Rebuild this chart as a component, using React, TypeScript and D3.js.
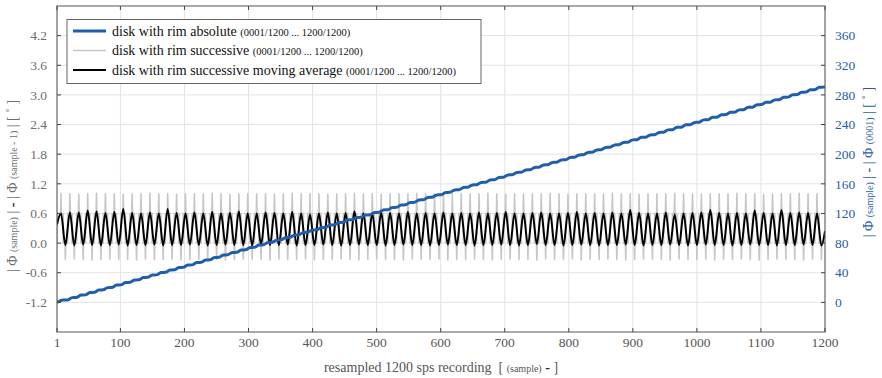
import React from "react";
import * as d3 from "d3";

// ---------- data ----------
const xTicks = [1, 100, 200, 300, 400, 500, 600, 700, 800, 900, 1000, 1100, 1200];
const leftTicks = [-1.2, -0.6, 0.0, 0.6, 1.2, 1.8, 2.4, 3.0, 3.6, 4.2];
const rightTicks = [0, 40, 80, 120, 160, 200, 240, 280, 320, 360];

// moving average: peak / trough sample positions and values
const maPeakAt = [7.2, 21.1, 35.0, 48.9, 62.7, 76.6, 90.5, 104.4, 118.3, 132.2, 146.1, 159.9, 173.8, 187.7, 201.6, 215.5, 229.4, 243.3, 257.1, 271.0, 284.9, 298.8, 312.7, 326.6, 340.5, 354.3, 368.2, 382.1, 396.0, 409.9, 423.8, 437.7, 451.6, 465.4, 479.3, 493.2, 507.1, 521.0, 534.9, 548.8, 562.6, 576.5, 590.4, 604.3, 618.2, 632.1, 646.0, 659.8, 673.7, 687.6, 701.5, 715.4, 729.3, 743.2, 757.0, 770.9, 784.8, 798.7, 812.6, 826.5, 840.4, 854.2, 868.1, 882.0, 895.9, 909.8, 923.7, 937.6, 951.4, 965.3, 979.2, 993.1, 1007.0, 1020.9, 1034.8, 1048.6, 1062.5, 1076.4, 1090.3, 1104.2, 1118.1, 1132.0, 1145.9, 1159.7, 1173.6, 1187.5];
const maPeakVal = [0.60, 0.62, 0.62, 0.66, 0.64, 0.61, 0.63, 0.69, 0.61, 0.60, 0.62, 0.60, 0.69, 0.61, 0.60, 0.62, 0.60, 0.63, 0.60, 0.61, 0.64, 0.60, 0.60, 0.62, 0.61, 0.60, 0.63, 0.60, 0.58, 0.60, 0.62, 0.60, 0.61, 0.64, 0.60, 0.60, 0.62, 0.61, 0.60, 0.63, 0.60, 0.61, 0.60, 0.62, 0.60, 0.61, 0.60, 0.62, 0.60, 0.61, 0.63, 0.60, 0.60, 0.61, 0.62, 0.60, 0.60, 0.61, 0.63, 0.60, 0.61, 0.60, 0.62, 0.60, 0.67, 0.61, 0.60, 0.60, 0.62, 0.58, 0.60, 0.61, 0.62, 0.67, 0.61, 0.60, 0.61, 0.60, 0.66, 0.61, 0.60, 0.67, 0.61, 0.62, 0.61, 0.60];
const maTroughAt = [14.1, 28.0, 41.9, 55.8, 69.6, 83.5, 97.4, 111.3, 125.2, 139.1, 153.0, 166.8, 180.7, 194.6, 208.5, 222.4, 236.3, 250.2, 264.0, 277.9, 291.8, 305.7, 319.6, 333.5, 347.4, 361.2, 375.1, 389.0, 402.9, 416.8, 430.7, 444.6, 458.5, 472.3, 486.2, 500.1, 514.0, 527.9, 541.8, 555.7, 569.5, 583.4, 597.3, 611.2, 625.1, 639.0, 652.9, 666.7, 680.6, 694.5, 708.4, 722.3, 736.2, 750.1, 763.9, 777.8, 791.7, 805.6, 819.5, 833.4, 847.3, 861.1, 875.0, 888.9, 902.8, 916.7, 930.6, 944.5, 958.3, 972.2, 986.1, 1000.0, 1013.9, 1027.8, 1041.7, 1055.5, 1069.4, 1083.3, 1097.2, 1111.1, 1125.0, 1138.9, 1152.8, 1166.6, 1180.5, 1194.4];
const maTroughVal = [-0.04, -0.05, -0.03, -0.04, -0.05, -0.04, -0.03, -0.05, -0.04, -0.04, -0.03, -0.05, -0.04, -0.04, -0.03, -0.04, -0.05, -0.04, -0.03, -0.04, -0.04, -0.05, -0.03, -0.04, -0.04, -0.03, -0.05, -0.04, -0.04, -0.03, -0.04, -0.05, -0.04, -0.03, -0.04, -0.04, -0.05, -0.04, -0.03, -0.04, -0.04, -0.05, -0.04, -0.03, -0.04, -0.04, -0.05, -0.04, -0.04, -0.03, -0.04, -0.05, -0.04, -0.02, -0.04, -0.04, -0.05, -0.04, -0.03, -0.04, -0.05, -0.04, -0.04, -0.03, -0.04, -0.05, -0.04, -0.04, -0.03, -0.04, -0.05, -0.04, -0.03, -0.04, -0.04, -0.05, -0.04, -0.03, -0.04, -0.04, -0.05, -0.04, -0.04, -0.03, -0.04, -0.05];
const maStartVal = 0.38;
const maEndVal = 0.24;

// successive: plateau levels and one-sample spikes at each peak / trough
const succUpper = 0.6;
const succLower = 0.0;
const succHighVal = [1.0, 1.0, 0.99, 1.0, 1.01, 1.0, 1.0, 0.99, 1.0, 1.0, 1.01, 1.0, 1.0, 0.99, 1.0, 1.0, 1.0, 1.01, 1.0, 0.99, 1.0, 1.0, 1.0, 1.0, 0.99, 1.0, 1.01, 1.0, 1.0, 1.0, 0.99, 1.0, 1.0, 1.01, 1.0, 1.0, 0.99, 1.0, 1.0, 1.0, 1.01, 1.0, 1.0, 0.99, 1.0, 1.0, 1.0, 1.0, 1.01, 1.0, 0.99, 1.0, 1.0, 1.0, 1.0, 1.01, 1.0, 0.99, 1.0, 1.0, 1.0, 1.0, 1.01, 1.0, 1.0, 0.99, 1.0, 1.0, 1.0, 1.01, 1.0, 1.0, 0.99, 1.0, 1.0, 1.0, 1.01, 1.0, 1.0, 0.99, 1.0, 1.0, 1.0, 1.01, 1.0, 1.0];
const succLowVal = [-0.33, -0.32, -0.33, -0.34, -0.33, -0.32, -0.33, -0.33, -0.34, -0.32, -0.33, -0.33, -0.32, -0.34, -0.33, -0.33, -0.32, -0.33, -0.34, -0.33, -0.32, -0.33, -0.33, -0.34, -0.32, -0.33, -0.33, -0.32, -0.34, -0.33, -0.33, -0.32, -0.33, -0.34, -0.33, -0.32, -0.33, -0.33, -0.34, -0.32, -0.33, -0.33, -0.32, -0.34, -0.33, -0.33, -0.32, -0.33, -0.34, -0.33, -0.32, -0.33, -0.33, -0.34, -0.32, -0.33, -0.33, -0.32, -0.34, -0.33, -0.33, -0.32, -0.33, -0.34, -0.33, -0.32, -0.33, -0.33, -0.34, -0.32, -0.33, -0.33, -0.32, -0.34, -0.33, -0.33, -0.32, -0.33, -0.34, -0.33, -0.32, -0.33, -0.33, -0.34, -0.32, -0.33];

// absolute angle (right axis, degrees): value at sample 1, then pairs
// (end of steep step, end of flat step) for every period, then value at 1200
const absStartVal = 0;
const absStepVal = [
  3.1, 3.3, 6.4, 6.7, 9.8, 10.1, 13.2, 13.5, 16.6, 16.9, 19.9, 20.2, 23.3, 23.6, 26.7, 27.0, 30.1, 30.4, 33.5, 33.8,
  36.9, 37.1, 40.2, 40.5, 43.6, 43.9, 47.0, 47.3, 50.4, 50.6, 53.7, 54.0, 57.1, 57.4, 60.5, 60.8, 63.9, 64.2, 67.3, 67.5,
  70.6, 70.9, 74.0, 74.3, 77.4, 77.7, 80.8, 81.1, 84.1, 84.4, 87.5, 87.8, 90.9, 91.2, 94.3, 94.6, 97.7, 97.9, 101.0, 101.3,
  104.4, 104.7, 107.8, 108.1, 111.2, 111.5, 114.6, 114.8, 117.9, 118.2, 121.3, 121.6, 124.7, 125.0, 128.1, 128.3, 131.4, 131.7, 134.8, 135.1,
  138.2, 138.5, 141.6, 141.9, 145.0, 145.2, 148.3, 148.6, 151.7, 152.0, 155.1, 155.4, 158.5, 158.8, 161.9, 162.1, 165.2, 165.5, 168.6, 168.9,
  172.0, 172.3, 175.4, 175.6, 178.7, 179.0, 182.1, 182.4, 185.5, 185.8, 188.9, 189.2, 192.3, 192.5, 195.6, 195.9, 199.0, 199.3, 202.4, 202.7,
  205.8, 206.1, 209.1, 209.4, 212.5, 212.8, 215.9, 216.2, 219.3, 219.6, 222.7, 222.9, 226.0, 226.3, 229.4, 229.7, 232.8, 233.1, 236.2, 236.5,
  239.6, 239.8, 242.9, 243.2, 246.3, 246.6, 249.7, 250.0, 253.1, 253.4, 256.5, 256.7, 259.8, 260.1, 263.2, 263.5, 266.6, 266.9, 270.0, 270.2,
  273.3, 273.6, 276.7, 277.0, 280.1, 280.4, 283.5, 283.8, 286.9, 287.1, 290.2, 290.5,
];
const absEndVal = 291.2;

// ---------- layout ----------
const W = 882, H = 378;
const L = 57, R = 825, T = 6, B = 332;
const SERIF = "'Liberation Serif', 'Times New Roman', serif";
const BLUE = "#1f5ea8";
const GRAY_TXT = "#6e6e6e";

export default function App() {
  const x = d3.scaleLinear().domain([1, 1200]).range([L, R]);
  const yL = d3.scaleLinear().domain([-1.8, 4.8]).range([B, T]);
  const yR = d3.scaleLinear().domain([-40, 400]).range([B, T]);

  // moving average points
  const maPts: [number, number][] = [[1, maStartVal]];
  maPeakAt.forEach((p, i) => {
    maPts.push([p, maPeakVal[i]]);
    maPts.push([maTroughAt[i], maTroughVal[i]]);
  });
  maPts.push([1200, maEndVal]);
  const maLine = d3.line<[number, number]>().x(d => x(d[0])).y(d => yL(d[1])).curve(d3.curveMonotoneX);

  // successive points (step-like)
  const sPts: [number, number][] = [[1, succLower], [2, succUpper]];
  maPeakAt.forEach((p, i) => {
    const t = maTroughAt[i];
    if (i > 0) {
      const up = (maTroughAt[i - 1] + p) / 2;
      sPts.push([up, succLower], [up, succUpper]);
    }
    sPts.push([p - 0.6, succUpper], [p, succHighVal[i]], [p + 0.6, succUpper]);
    const down = (p + t) / 2;
    sPts.push([down, succUpper], [down, succLower]);
    sPts.push([t - 0.6, succLower], [t, succLowVal[i]], [t + 0.6, succLower]);
  });
  sPts.push([1200, succLower]);
  const sLine = d3.line<[number, number]>().x(d => x(d[0])).y(d => yL(d[1]));

  // absolute: step breakpoints sit half-way between the extremes of the moving average
  const absPts: [number, number][] = [[1, absStartVal]];
  maPeakAt.forEach((p, i) => {
    const t = maTroughAt[i];
    const nextP = i + 1 < maPeakAt.length ? maPeakAt[i + 1] : t + (t - p);
    absPts.push([(p + t) / 2, absStepVal[2 * i]]);
    absPts.push([Math.min((t + nextP) / 2, 1199.5), absStepVal[2 * i + 1]]);
  });
  absPts.push([1200, absEndVal]);
  const absLine = d3.line<[number, number]>().x(d => x(d[0])).y(d => yR(d[1])).curve(d3.curveMonotoneX);

  const tickLen = 4;

  return (
    <svg width={W} height={H} style={{ position: "absolute", left: 0, top: 0, background: "#fff" }} fontFamily={SERIF}>
      <rect x={0} y={0} width={W} height={H} fill="#fff" />
      {/* grid */}
      <g stroke="#e3e3e3" strokeWidth={1}>
        {xTicks.map(t => (
          <line key={"gx" + t} x1={x(t)} x2={x(t)} y1={T} y2={B} />
        ))}
        {leftTicks.map(t => (
          <line key={"gy" + t} x1={L} x2={R} y1={yL(t)} y2={yL(t)} />
        ))}
      </g>

      <defs>
        <clipPath id="plotClip">
          <rect x={L} y={T} width={R - L} height={B - T} />
        </clipPath>
      </defs>
      <g clipPath="url(#plotClip)">
        <path d={sLine(sPts) || ""} fill="none" stroke="#c6c6c6" strokeWidth={1.6} strokeLinejoin="round" />
        <path d={maLine(maPts) || ""} fill="none" stroke="#000" strokeWidth={2} strokeLinejoin="round" />
        <path d={absLine(absPts) || ""} fill="none" stroke={BLUE} strokeWidth={3} strokeLinejoin="round" />
      </g>

      {/* box */}
      <rect x={L} y={T} width={R - L} height={B - T} fill="none" stroke="#555" strokeWidth={1} />
      {/* ticks */}
      <g stroke="#444" strokeWidth={1}>
        {xTicks.map(t => (
          <g key={"tx" + t}>
            <line x1={x(t)} x2={x(t)} y1={B} y2={B - tickLen} />
            <line x1={x(t)} x2={x(t)} y1={T} y2={T + tickLen} />
          </g>
        ))}
        {leftTicks.map(t => (
          <line key={"tl" + t} x1={L} x2={L + tickLen} y1={yL(t)} y2={yL(t)} />
        ))}
        {rightTicks.map(t => (
          <line key={"tr" + t} x1={R} x2={R - tickLen} y1={yR(t)} y2={yR(t)} />
        ))}
      </g>

      {/* tick labels */}
      <g fontSize={13.5} fill="#555" textAnchor="middle">
        {xTicks.map(t => (
          <text key={"lx" + t} x={x(t)} y={347}>{t}</text>
        ))}
      </g>
      <g fontSize={13.5} fill={GRAY_TXT} textAnchor="end">
        {leftTicks.map(t => (
          <text key={"ll" + t} x={47} y={yL(t)} dy="0.35em">{t.toFixed(1)}</text>
        ))}
      </g>
      <g fontSize={13.5} fill={BLUE} textAnchor="start">
        {rightTicks.map(t => (
          <text key={"lr" + t} x={835} y={yR(t)} dy="0.35em">{t}</text>
        ))}
      </g>

      {/* x label */}
      <text x={441} y={372} textAnchor="middle" fontSize={14} fill="#555">
        resampled 1200 sps recording{"\u00a0\u00a0"}[ <tspan fontSize={10}>(sample)</tspan> <tspan fontWeight="bold" fill="#222">-</tspan> ]
      </text>

      {/* left y label */}
      <text transform="translate(17,186) rotate(-90)" textAnchor="middle" fontSize={14} fill={GRAY_TXT}>
        | Φ <tspan fontSize={10}>(sample)</tspan> | <tspan fontWeight="bold" fill="#222">-</tspan> | Φ <tspan fontSize={10}>(sample - 1)</tspan> | [ ˚ ]
      </text>

      {/* right y label */}
      <text transform="translate(873,162) rotate(-90)" textAnchor="middle" fontSize={14} fill={BLUE}>
        | Φ <tspan fontSize={10}>(sample)</tspan> | <tspan fontWeight="bold">-</tspan> | Φ <tspan fontSize={10}>(0001)</tspan> | [ ˚ ]
      </text>

      {/* legend */}
      <g>
        <rect x={67} y={19.5} width={414} height={64} fill="#fff" stroke="#666" strokeWidth={1} />
        <line x1={73} x2={106} y1={31} y2={31} stroke={BLUE} strokeWidth={3} />
        <line x1={73} x2={106} y1={50.5} y2={50.5} stroke="#c6c6c6" strokeWidth={1.5} />
        <line x1={73} x2={106} y1={70} y2={70} stroke="#000" strokeWidth={2} />
        <g fontSize={14} fill="#111">
          <text x={112} y={35.5}>disk with rim absolute <tspan fontSize={10.5}>(0001/1200 ... 1200/1200)</tspan></text>
          <text x={112} y={55}>disk with rim successive <tspan fontSize={10.5}>(0001/1200 ... 1200/1200)</tspan></text>
          <text x={112} y={74.5}>disk with rim successive moving average <tspan fontSize={10.5}>(0001/1200 ... 1200/1200)</tspan></text>
        </g>
      </g>
    </svg>
  );
}
